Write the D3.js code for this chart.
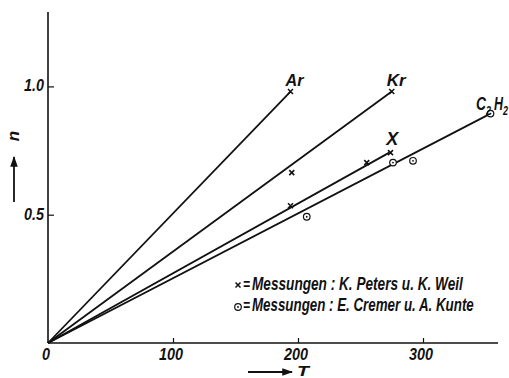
<!DOCTYPE html>
<html><head><meta charset="utf-8">
<script src="https://cdn.jsdelivr.net/npm/d3@7"></script>
<style>body{margin:0;background:#fff}svg text{font-family:"Liberation Sans",Arial,sans-serif;font-style:italic;font-weight:bold;fill:#111}</style>
</head><body><svg id="c" width="509" height="378"></svg>
<script>
const xTicks=[0,100,200,300];
const yTicks=[0.5,1.0];
const yTickLabels=["0.5","1.0"];
const gases=["Ar","Kr","X","C2H2"];
const lineEnds=[[194,0.98],[275,0.98],[273,0.742],[354,0.894]];
const petersT=[194,275,195,274,255,194];
const petersN=[0.98,0.98,0.664,0.742,0.703,0.535];
const cremerT=[354,276,292,207];
const cremerN=[0.894,0.703,0.71,0.492];
const legendTexts=["Messungen : K. Peters u. K. Weil","Messungen : E. Cremer u. A. Kunte"];

const svg=d3.select("#c");
const x=d3.scaleLinear().domain([0,360]).range([48,498]);
const y=d3.scaleLinear().domain([0,1.29]).range([343,12]);

function txt(px,py,s,size,w,anchor){
  const g=svg.append("g").attr("transform",`translate(${px},${py})`);
  const t=g.append("text").attr("x",0).attr("y",0).attr("font-size",size).text(s);
  if(anchor) t.attr("text-anchor",anchor);
  if(w){const bw=t.node().getComputedTextLength();g.attr("transform",`translate(${px},${py}) scale(${w/bw},1)`);}
  return t;
}

// axes
svg.append("line").attr("x1",x(0)).attr("x2",x(360)).attr("y1",y(0)).attr("y2",y(0)).attr("stroke","#111").attr("stroke-width",1.6);
svg.append("line").attr("x1",x(0)).attr("x2",x(0)).attr("y1",y(0)).attr("y2",y(1.29)).attr("stroke","#111").attr("stroke-width",1.6);
const xa=svg.append("g").attr("transform",`translate(0,${y(0)})`).call(d3.axisTop(x).tickValues(xTicks.slice(1)).tickSize(5).tickFormat(""));
xa.select(".domain").remove();
xa.selectAll("line").attr("stroke","#111").attr("stroke-width",1.2);
const ya=svg.append("g").attr("transform",`translate(${x(0)},0)`).call(d3.axisRight(y).tickValues(yTicks).tickSize(6).tickFormat(""));
ya.select(".domain").remove();
ya.selectAll("line").attr("stroke","#111").attr("stroke-width",1.2);
xTicks.forEach(d=>{const s=String(d);txt(x(d)-2,y(0)+17,s,16,s.length*8,"middle");});
yTicks.forEach((d,i)=>txt(x(0)-4,y(d)+5,yTickLabels[i],16,20,"end"));

// axis labels with arrows
svg.append("defs").append("marker").attr("id","ah").attr("viewBox","0 0 10 10").attr("refX",9).attr("refY",5).attr("markerWidth",6).attr("markerHeight",6).attr("orient","auto").append("path").attr("d","M0,1.5L10,5L0,8.5Z").attr("fill","#111");
svg.append("line").attr("x1",14).attr("x2",14).attr("y1",202).attr("y2",157).attr("stroke","#111").attr("stroke-width",1.8).attr("marker-end","url(#ah)");
svg.append("text").attr("transform","translate(19,136) rotate(-90)").attr("text-anchor","middle").attr("font-size",17).text("n");
svg.append("line").attr("x1",248).attr("x2",292).attr("y1",372).attr("y2",372).attr("stroke","#111").attr("stroke-width",1.8).attr("marker-end","url(#ah)");
txt(297,376,"T",14,12);

// lines
svg.selectAll(".ln").data(lineEnds).enter().append("line").attr("x1",x(0)).attr("y1",y(0)).attr("x2",d=>x(d[0])).attr("y2",d=>y(d[1])).attr("stroke","#111").attr("stroke-width",1.8);

// markers
const cross=(g,cx,cy)=>{g.append("path").attr("d",`M${cx-2.5},${cy-2.5}L${cx+2.5},${cy+2.5}M${cx-2.5},${cy+2.5}L${cx+2.5},${cy-2.5}`).attr("stroke","#111").attr("stroke-width",1.5);};
const circ=(g,cx,cy)=>{g.append("circle").attr("cx",cx).attr("cy",cy).attr("r",3.3).attr("fill","#fff").attr("stroke","#111").attr("stroke-width",1.2);g.append("circle").attr("cx",cx).attr("cy",cy).attr("r",0.9).attr("fill","#111");};
const mg=svg.append("g");
petersT.forEach((t,i)=>cross(mg,x(t),y(petersN[i])));
cremerT.forEach((t,i)=>circ(mg,x(t),y(cremerN[i])));

// gas labels
txt(x(194)-5,y(0.98)-6,"Ar",17,18);
txt(x(275)-5,y(0.98)-6,"Kr",17,19);
txt(x(273)-3,y(0.742)-8,"X",19,12);
txt(476,110,"C",18,10);
txt(486,115,"2",12,5);
txt(494,110,"H",18,9);
txt(503,115,"2",12,5);

// legend
cross(svg,238,285);
circ(svg,238,307);
txt(243,290,"=",16,7);
txt(243,311,"=",16,7);
txt(252,290,legendTexts[0],18,211);
txt(252,311,legendTexts[1],18,222);
</script></body></html>
